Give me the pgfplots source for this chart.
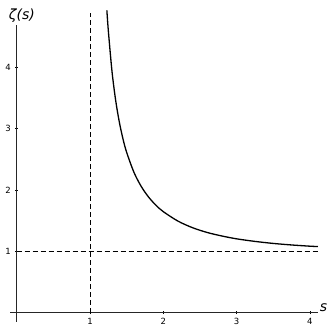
\documentclass[border=0pt]{standalone}
\usepackage{fontspec}
\setmainfont{DejaVu Sans}
\usepackage{pgfplots}
\pgfplotsset{compat=1.18}
\begin{document}
\begin{tikzpicture}
\begin{axis}[
  x=73.3pt, y=61.3pt,
  axis lines=middle,
  axis line style={-, line width=0.8pt, black!85},
  xmin=-0.09, xmax=4.11, ymin=-0.15, ymax=4.69,
  clip=false,
  xtick={1,2,3,4}, ytick={1,2,3,4},
  tick style={black, line width=0.5pt},
  major tick length=3pt,
  tick label style={font=\fontsize{8.5}{9}\selectfont},
  /pgf/number format/assume math mode=true,
  xticklabel style={yshift=-1pt},
  yticklabel style={xshift=-1pt},
]
\path (axis cs:-0.228,-0.285) rectangle (axis cs:4.274,5.098);
\addplot[black, line width=1.3pt, smooth] coordinates {
(1.23,4.93) (1.25,4.595) (1.3,3.932) (1.35,3.46) (1.4,3.106) (1.45,2.83)
(1.5,2.612) (1.6,2.285) (1.7,2.054) (1.8,1.882) (1.9,1.749) (2.0,1.645)
(2.2,1.491) (2.4,1.383) (2.6,1.305) (2.8,1.248) (3.0,1.202) (3.25,1.160)
(3.5,1.127) (3.75,1.102) (4.0,1.082) (4.11,1.076)
};
\addplot[black, line width=0.6pt, dash pattern=on 5pt off 3pt] coordinates {(1,0) (1,4.88)};
\addplot[black, line width=0.6pt, dash pattern=on 5pt off 3pt] coordinates {(0,1) (4.11,1)};
\node[anchor=west, font=\fontsize{14}{14}\selectfont\itshape, inner sep=1pt] at (axis cs:4.12,0.08) {s};
\node[anchor=south, font=\fontsize{14}{14}\selectfont\itshape, inner sep=1pt] at (axis cs:0.07,4.72) {ζ(s)};
\end{axis}
\end{tikzpicture}
\end{document}
